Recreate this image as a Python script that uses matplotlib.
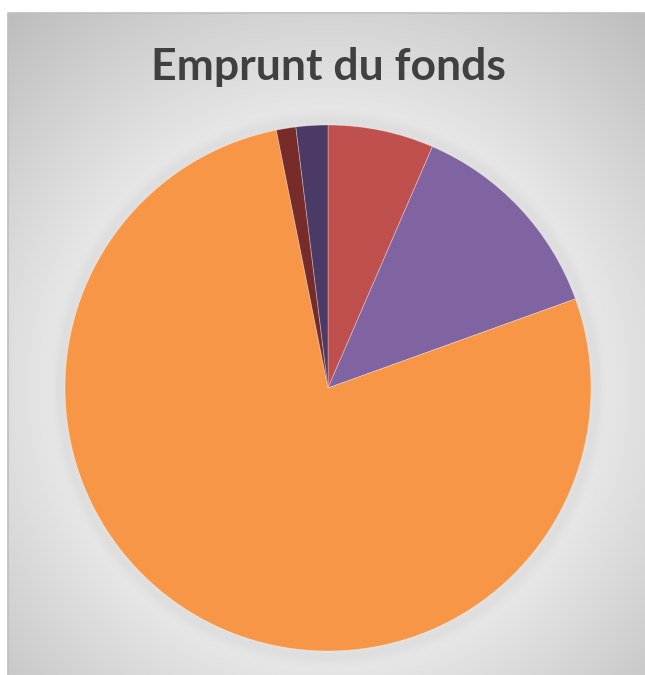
import numpy as np
import matplotlib
matplotlib.use("Agg")
import matplotlib.pyplot as plt

title = "Emprunt du fonds"
categories = ["A", "B", "C", "D", "E"]
values = [6.5, 13.0, 77.35, 1.2, 1.95]
colors = ["#c0504d", "#8064a2", "#f79646", "#772c2a", "#4b3a66"]

W, H = 645, 675
fig = plt.figure(figsize=(W / 100, H / 100), dpi=100)
fig.patch.set_facecolor("white")

# chart area background with radial gradient
x0, y0, x1, y1 = 8, 13, 645, 675
bg = fig.add_axes([x0 / W, 1 - y1 / H, (x1 - x0) / W, (y1 - y0) / H])
bg.set_axis_off()
yy, xx = np.mgrid[y0:y1, x0:x1]
cx, cy, R = 328, 388, 263
d = np.hypot(xx - cx, yy - cy)
val = np.clip(0.925 - 0.16 * np.clip((d - 250) / 210, 0, 1.3), 0.72, 0.93)
# soft shadow ring just outside the pie
ring = np.exp(-((d - R - 4) / 8) ** 2) * 0.04
val = val - ring
img = np.dstack([val, val, val])
bg.imshow(img, extent=[0, 1, 0, 1], aspect="auto", interpolation="bilinear")
bg.set_xlim(0, 1)
bg.set_ylim(0, 1)
bg.plot([0, 0, 1], [0, 1, 1], color="#bfbfbf", lw=1.2, transform=bg.transAxes, clip_on=False)

ax = fig.add_axes([(cx - R) / W, 1 - (cy + R) / H, 2 * R / W, 2 * R / H])
ax.pie(values, colors=colors, startangle=90, counterclock=False, radius=1,
       wedgeprops=dict(edgecolor=(1, 1, 1, 0.35), linewidth=0.6))
ax.set_xlim(-1, 1)
ax.set_ylim(-1, 1)
ax.set_aspect("equal")
ax.set_axis_off()

fig.text(328 / W, 1 - 67 / H, title, ha="center", va="center",
         fontsize=32, fontweight="bold", color="#404040", family=["Lato", "DejaVu Sans"])

fig.savefig("out.png", dpi=100)
